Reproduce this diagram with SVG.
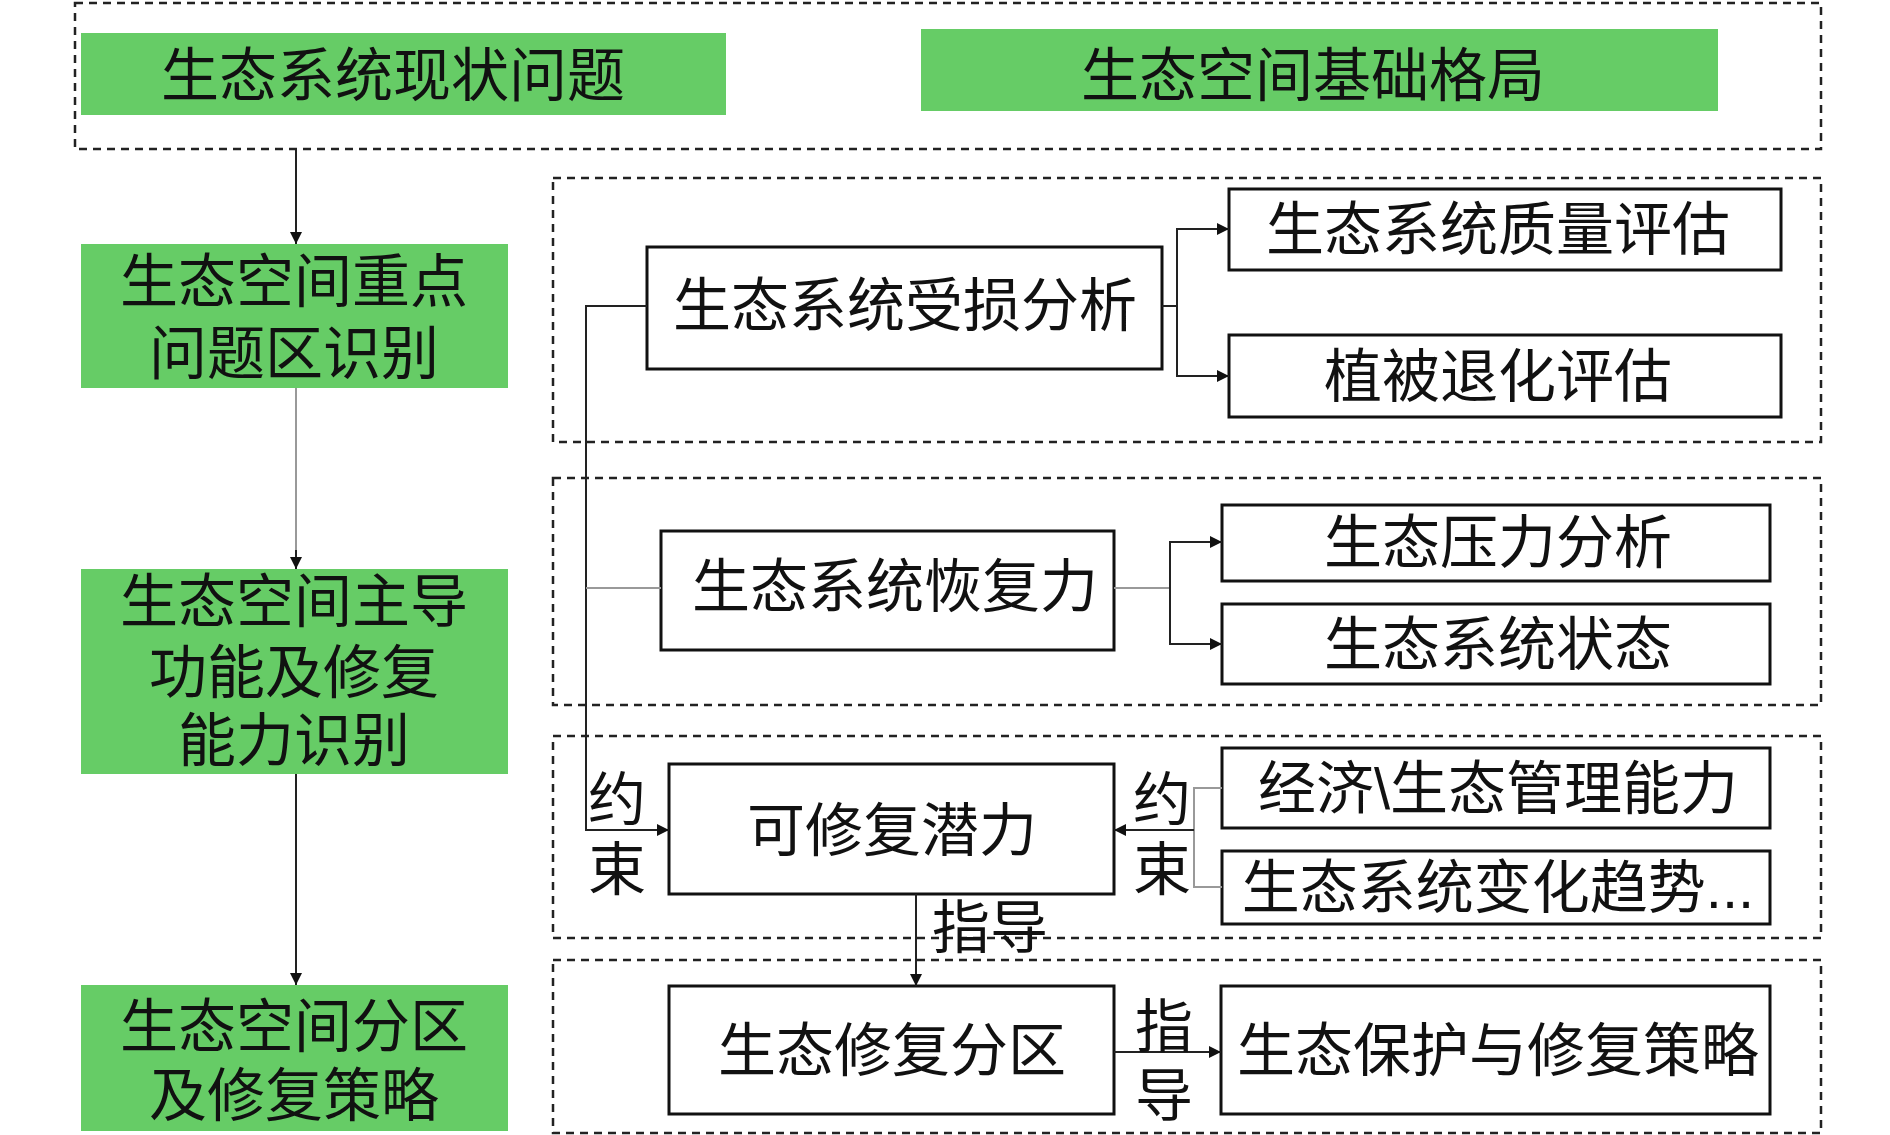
<svg xmlns="http://www.w3.org/2000/svg" width="1890" height="1135" viewBox="0 0 1890 1135">
<style>
text{font-family:"Liberation Sans","Noto Sans CJK SC",sans-serif;font-size:58px;fill:#111;text-anchor:middle;dominant-baseline:central}
.g{fill:#66cc66}
.d{fill:none;stroke:#222;stroke-width:2.5;stroke-dasharray:8 6}
.b{fill:#fff;stroke:#111;stroke-width:3}
.c{fill:none;stroke:#222;stroke-width:2}
.l{fill:none;stroke:#999;stroke-width:2}
</style>
<defs><marker id="a" viewBox="0 0 10 10" refX="10" refY="5" markerWidth="6" markerHeight="6" orient="auto"><path d="M0,0L10,5L0,10z" fill="#111"/></marker></defs>
<rect class="d" x="75" y="3" width="1746" height="146"/>
<rect class="d" x="553" y="178" width="1268" height="264"/>
<rect class="d" x="553" y="478" width="1268" height="227"/>
<rect class="d" x="553" y="736" width="1268" height="202"/>
<rect class="d" x="553" y="960" width="1268" height="173"/>
<g id="n1"><rect class="g" x="81" y="33" width="645" height="82"/><text x="393" y="75">生态系统现状问题</text></g>
<g id="n2"><rect class="g" x="921" y="29" width="797" height="82"/><text x="1313" y="75">生态空间基础格局</text></g>
<g id="n3"><rect class="g" x="81" y="244" width="427" height="144"/><text x="294" y="281">生态空间重点</text><text x="294" y="353">问题区识别</text></g>
<g id="n4"><rect class="g" x="81" y="569" width="427" height="205"/><text x="294" y="601">生态空间主导</text><text x="294" y="672">功能及修复</text><text x="294" y="740">能力识别</text></g>
<g id="n5"><rect class="g" x="81" y="985" width="427" height="146"/><text x="294" y="1026">生态空间分区</text><text x="294" y="1095">及修复策略</text></g>
<g id="n6"><rect class="b" x="647" y="247" width="515" height="122"/><text x="905" y="305">生态系统受损分析</text></g>
<g id="n7"><rect class="b" x="1229" y="189" width="552" height="81"/><text x="1498" y="229">生态系统质量评估</text></g>
<g id="n8"><rect class="b" x="1229" y="335" width="552" height="82"/><text x="1498" y="376">植被退化评估</text></g>
<g id="n9"><rect class="b" x="661" y="531" width="453" height="119"/><text x="895" y="586">生态系统恢复力</text></g>
<g id="n10"><rect class="b" x="1222" y="505" width="548" height="76"/><text x="1498" y="542">生态压力分析</text></g>
<g id="n11"><rect class="b" x="1222" y="604" width="548" height="80"/><text x="1498" y="644">生态系统状态</text></g>
<g id="n12"><rect class="b" x="669" y="764" width="445" height="130"/><text x="892" y="830">可修复潜力</text></g>
<g id="n13"><rect class="b" x="1222" y="748" width="548" height="80"/><text x="1498" y="788">经济\生态管理能力</text></g>
<g id="n14"><rect class="b" x="1222" y="851" width="548" height="73"/><text x="1498" y="887">生态系统变化趋势...</text></g>
<g id="n15"><rect class="b" x="669" y="986" width="445" height="128"/><text x="892" y="1050">生态修复分区</text></g>
<g id="n16"><rect class="b" x="1221" y="986" width="549" height="128"/><text x="1498" y="1050">生态保护与修复策略</text></g>
<g id="connectors">
<path class="c" d="M296,149V244" marker-end="url(#a)"/>
<path class="l" d="M296,388V566"/><path class="c" d="M296,550V569" marker-end="url(#a)"/>
<path class="c" d="M296,774V985" marker-end="url(#a)"/>
<path class="c" d="M1162,306H1177V229H1229" marker-end="url(#a)"/>
<path class="c" d="M1177,306V376H1229" marker-end="url(#a)"/>
<path class="l" d="M1114,588H1170"/>
<path class="c" d="M1170,588V542H1222" marker-end="url(#a)"/>
<path class="c" d="M1170,588V644H1222" marker-end="url(#a)"/>
<path class="l" d="M1222,788H1194V887H1222"/>
<path class="c" d="M1194,830H1114" marker-end="url(#a)"/>
<path class="c" d="M647,306H586V830H669" marker-end="url(#a)"/>
<path class="l" d="M586,588H661"/>
<path class="c" d="M916,894V986" marker-end="url(#a)"/>
<path class="c" d="M1114,1052H1221" marker-end="url(#a)"/>
</g>
<text x="617" y="799">约</text><text x="617" y="869">束</text>
<text x="1162" y="799">约</text><text x="1162" y="869">束</text>
<text x="990" y="927">指导</text>
<text x="1164" y="1026">指</text><text x="1164" y="1095">导</text>
</svg>
